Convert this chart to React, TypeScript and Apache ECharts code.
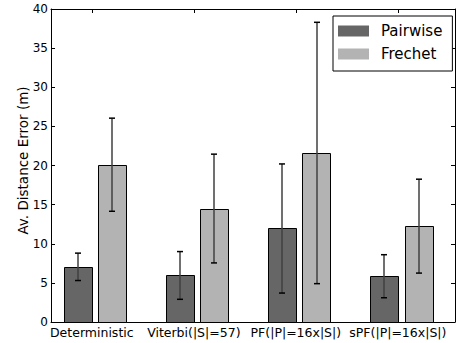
import React, { useEffect, useRef } from "react";
import * as echarts from "echarts";

const categories = ["Deterministic", "Viterbi(|S|=57)", "PF(|P|=16x|S|)", "sPF(|P|=16x|S|)"];
const pairwise = [7.05, 5.95, 11.95, 5.85];
const pairwiseErr = [1.75, 3.05, 8.25, 2.75];
const frechet = [20.1, 14.5, 21.6, 12.25];
const frechetErr = [5.95, 6.95, 16.7, 6.0];
const yTicks = [0, 5, 10, 15, 20, 25, 30, 35, 40];
const yMax = 40;

const FONT = "DejaVu Sans";

export default function App() {
  const ref = useRef<HTMLDivElement>(null);
  useEffect(() => {
    if (!ref.current) return;
    const chart = echarts.init(ref.current, null, { renderer: "svg" });
    const catIdx = categories.map((_, i) => i);

    const barSeries = (name: string, values: number[], off0: number, off1: number, color: string) => ({
      name,
      type: "custom",
      xAxisIndex: 0,
      yAxisIndex: 0,
      itemStyle: { color },
      data: values.map((v, i) => [i, v]),
      renderItem: (_p: any, api: any) => {
        const x = api.value(0);
        const v = api.value(1);
        const a = api.coord([x + off0, v]);
        const b = api.coord([x + off1, 0]);
        return {
          type: "rect",
          shape: { x: Math.round(a[0]) + 0.5, y: Math.round(a[1]) + 0.5, width: Math.round(b[0] - a[0]), height: Math.round(b[1] - a[1]) },
          style: { fill: color, stroke: "#000", lineWidth: 1 },
        };
      },
    });

    const errSeries = (name: string, values: number[], errs: number[], off: number) => ({
      name,
      type: "custom",
      xAxisIndex: 0,
      yAxisIndex: 0,
      z: 5,
      silent: true,
      data: values.map((v, i) => [i, v, errs[i]]),
      renderItem: (_p: any, api: any) => {
        const x = api.value(0) + off;
        const v = api.value(1);
        const e = api.value(2);
        const top = api.coord([x, v + e]);
        const bot = api.coord([x, v - e]);
        const cx = Math.round(top[0]);
        return {
          type: "group",
          children: [
            { type: "line", shape: { x1: cx, y1: top[1], x2: cx, y2: bot[1] }, style: { stroke: "#404040", lineWidth: 1.5 } },
            { type: "line", shape: { x1: cx - 3, y1: top[1], x2: cx + 3, y2: top[1] }, style: { stroke: "#000", lineWidth: 1.5 } },
            { type: "line", shape: { x1: cx - 3, y1: bot[1], x2: cx + 3, y2: bot[1] }, style: { stroke: "#000", lineWidth: 1.5 } },
          ],
        };
      },
    });

    const topTicks = {
      name: "topTicks",
      type: "custom",
      xAxisIndex: 0,
      yAxisIndex: 0,
      silent: true,
      z: 6,
      data: catIdx.map((i) => [i, yMax]),
      renderItem: (_p: any, api: any) => {
        const p = api.coord([api.value(0), api.value(1)]);
        const cx = Math.round(p[0]) + 0.5;
        return { type: "line", shape: { x1: cx, y1: p[1], x2: cx, y2: p[1] + 4 }, style: { stroke: "#000", lineWidth: 1 } };
      },
    };

    const xCommon = {
      type: "value",
      min: -0.4,
      max: 3.56,
      splitLine: { show: false },
      axisLine: { show: true, onZero: false, lineStyle: { color: "#000", width: 1 } },
    };
    const yCommon = {
      type: "value",
      min: 0,
      max: yMax,
      interval: 5,
      splitLine: { show: false },
      axisLine: { show: true, onZero: false, lineStyle: { color: "#000", width: 1 } },
      axisTick: { show: true, inside: true, length: 4, lineStyle: { color: "#000" } },
    };

    chart.setOption({
      animation: false,
      textStyle: { fontFamily: FONT },
      grid: { left: 51, right: 1, top: 9, bottom: 21, containLabel: false },
      legend: {
        orient: "vertical",
        left: 333,
        top: 16,
        width: 114,
        backgroundColor: "#fff",
        borderColor: "#000",
        borderWidth: 1,
        borderRadius: 0,
        padding: [6, 10, 8, 5],
        itemGap: 5,
        itemWidth: 31,
        itemHeight: 11,
        textStyle: { fontFamily: FONT, fontSize: 15, color: "#000", padding: [0, 0, 0, 7], lineHeight: 18 },
        data: [
          { name: "Pairwise", icon: "rect", itemStyle: { color: "#666666", borderWidth: 0 } },
          { name: "Frechet", icon: "rect", itemStyle: { color: "#b3b3b3", borderWidth: 0 } },
        ],
      },
      xAxis: [
        {
          ...xCommon,
          position: "bottom",
          axisTick: { show: false },
          axisLabel: {
            show: true,
            customValues: catIdx,
            margin: 4,
            color: "#000",
            fontFamily: FONT,
            fontSize: 12.5,
            formatter: (v: number) => categories[Math.round(v)] ?? "",
          },
        },
        {
          ...xCommon,
          position: "top",
          axisTick: { show: false },
          axisLabel: { show: false },
        },
      ],
      yAxis: [
        {
          ...yCommon,
          position: "left",
          name: "Av. Distance Error (m)",
          nameLocation: "middle",
          nameRotate: 90,
          nameGap: 21,
          nameMoveOverlap: false,
          nameTextStyle: { fontFamily: FONT, fontSize: 13.5, color: "#000", padding: [0, 0, 0, 10] },
          axisLabel: { show: true, margin: 3, color: "#000", fontFamily: FONT, fontSize: 12, customValues: yTicks },
        },
        {
          ...yCommon,
          position: "right",
          axisLabel: { show: false },
        },
      ],
      series: [
        barSeries("Pairwise", pairwise, -0.275, 0, "#666666"),
        barSeries("Frechet", frechet, 0.065, 0.34, "#b3b3b3"),
        errSeries("PairwiseErr", pairwise, pairwiseErr, -0.1375),
        errSeries("FrechetErr", frechet, frechetErr, 0.2025),
        topTicks,
      ],
    });
    return () => chart.dispose();
  }, []);
  return (
    <div
      ref={ref}
      style={{ position: "fixed", left: 0, top: 0, width: 456, height: 343, background: "#fff" }}
    />
  );
}
